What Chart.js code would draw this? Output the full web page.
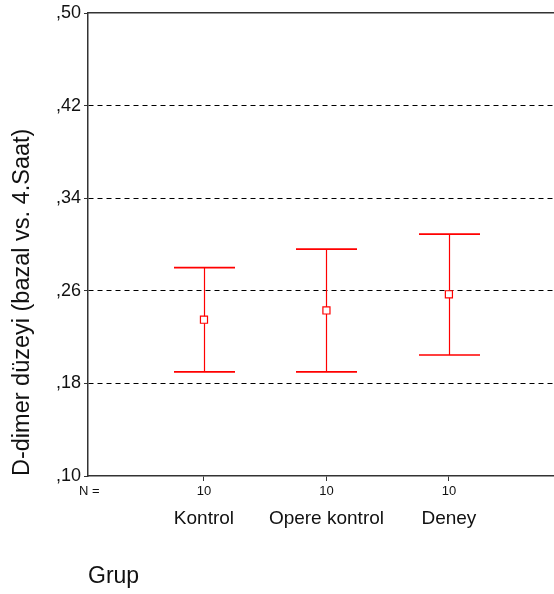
<!DOCTYPE html>
<html>
<head>
<meta charset="utf-8">
<script src="https://cdn.jsdelivr.net/npm/chart.js@4.4.1/dist/chart.umd.min.js"></script>
<style>
  html, body { margin: 0; padding: 0; background: #fff; overflow: hidden; }
  #wrap { width: 554px; height: 594px; position: relative; }
</style>
</head>
<body>
<div id="wrap"><canvas id="c" width="554" height="594"></canvas></div>
<script>
// ---- data ----
const categories = ['Kontrol', 'Opere kontrol', 'Deney'];
const nCounts = [10, 10, 10];
const means = [0.235, 0.243, 0.257];
const lowerCI = [0.190, 0.190, 0.2045];
const upperCI = [0.280, 0.296, 0.309];
const yTicks = [0.10, 0.18, 0.26, 0.34, 0.42, 0.50];
const yTitle = 'D-dimer düzeyi (bazal vs. 4.Saat)';
const xTitle = 'Grup';
const nLabel = 'N =';

const FONT = 'Arial, "Liberation Sans", sans-serif';
const RED = '#ff0000';
const AXIS = '#333333';
const TEXT = '#111111';
const xMin = 0.053, xMax = 3.85;

const catPositions = categories.map((_, i) => i + 1);

const noPad = (s) => { s.paddingLeft = 0; s.paddingRight = 0; };

const errorBars = {
  id: 'errorBars',
  beforeDatasetsDraw(chart) {
    const { ctx, scales } = chart;
    const xs = scales.x, ys = scales.y;
    ctx.save();
    ctx.strokeStyle = RED;
    catPositions.forEach((p, i) => {
      const x = Math.round(xs.getPixelForValue(p)) + 0.5;
      const yl = ys.getPixelForValue(lowerCI[i]);
      const yu = ys.getPixelForValue(upperCI[i]);
      ctx.lineWidth = 1.2;
      ctx.beginPath();
      ctx.moveTo(x, yl); ctx.lineTo(x, yu); ctx.stroke();
      ctx.lineWidth = 1.6;
      ctx.beginPath();
      ctx.moveTo(x - 30.5, yl); ctx.lineTo(x + 30.5, yl);
      ctx.moveTo(x - 30.5, yu); ctx.lineTo(x + 30.5, yu);
      ctx.stroke();
    });
    ctx.restore();
  },
  afterDraw(chart) {
    const { ctx } = chart;
    ctx.save();
    ctx.fillStyle = TEXT;
    ctx.font = '13px ' + FONT;
    ctx.textAlign = 'left';
    ctx.textBaseline = 'middle';
    ctx.fillText(nLabel, 79, 491);
    ctx.restore();
  }
};

new Chart(document.getElementById('c'), {
  type: 'scatter',
  data: {
    datasets: [{
      data: catPositions.map((p, i) => ({ x: p, y: means[i] })),
      pointStyle: 'rect',
      pointRadius: 5,
      pointBorderWidth: 1.2,
      pointBorderColor: RED,
      pointBackgroundColor: '#ffffff',
      showLine: false
    }]
  },
  options: {
    responsive: false,
    animation: false,
    devicePixelRatio: 1,
    layout: { autoPadding: false, padding: { top: 13, right: 1, bottom: 0, left: 0 } },
    plugins: { legend: { display: false }, tooltip: { enabled: false } },
    scales: {
      y: {
        type: 'linear',
        position: 'left',
        min: 0.10, max: 0.50,
        afterBuildTicks: (s) => { s.ticks = yTicks.map(v => ({ value: v })); },
        afterFit: (s) => { s.width = 88; s.paddingTop = 0; s.paddingBottom = 0; },
        ticks: {
          callback: (v) => ',' + Number(v).toFixed(2).split('.')[1],
          font: { family: FONT, size: 18 },
          color: TEXT,
          padding: 3
        },
        grid: {
          drawOnChartArea: true,
          drawTicks: true,
          tickLength: 4,
          tickColor: AXIS,
          tickBorderDash: [],
          lineWidth: 1,
          color: (c) => (c.tick && (Math.abs(c.tick.value - 0.10) < 1e-6 || Math.abs(c.tick.value - 0.50) < 1e-6)) ? 'rgba(0,0,0,0)' : '#000000'
        },
        border: { display: true, color: AXIS, width: 1.5, dash: [5, 4] },
        title: {
          display: true,
          text: yTitle,
          align: 'start',
          font: { family: FONT, size: 23.5 },
          color: TEXT,
          padding: { top: 8, bottom: 0 }
        }
      },
      xTop: {
        type: 'linear',
        position: 'top',
        min: xMin, max: xMax,
        afterFit: (s) => { s.height = 0; noPad(s); },
        ticks: { display: false },
        grid: { display: false },
        border: { display: true, color: AXIS, width: 1.5 }
      },
      x: {
        type: 'linear',
        position: 'bottom',
        weight: 0,
        min: xMin, max: xMax,
        afterBuildTicks: (s) => { s.ticks = catPositions.map(v => ({ value: v })); },
        afterFit: (s) => { s.height = 28; noPad(s); },
        ticks: {
          autoSkip: false, maxRotation: 0,
          callback: (v, i) => String(nCounts[i]),
          font: { family: FONT, size: 13 },
          color: TEXT,
          padding: 3
        },
        grid: { drawOnChartArea: false, drawTicks: true, tickLength: 5, tickColor: AXIS },
        border: { display: true, color: AXIS, width: 1.5 }
      },
      xc: {
        type: 'linear',
        position: 'bottom',
        weight: 1,
        min: xMin, max: xMax,
        afterBuildTicks: (s) => { s.ticks = catPositions.map(v => ({ value: v })); },
        afterFit: (s) => { s.height = 90; noPad(s); },
        ticks: {
          autoSkip: false, maxRotation: 0,
          callback: (v, i) => categories[i],
          font: { family: FONT, size: 19 },
          color: TEXT,
          padding: 3
        },
        grid: { display: false, drawTicks: false },
        border: { display: false },
        title: {
          display: true,
          text: xTitle,
          align: 'start',
          font: { family: FONT, size: 23 },
          color: TEXT,
          padding: { top: 0, bottom: 4 }
        }
      }
    }
  },
  plugins: [errorBars]
});
</script>
</body>
</html>
